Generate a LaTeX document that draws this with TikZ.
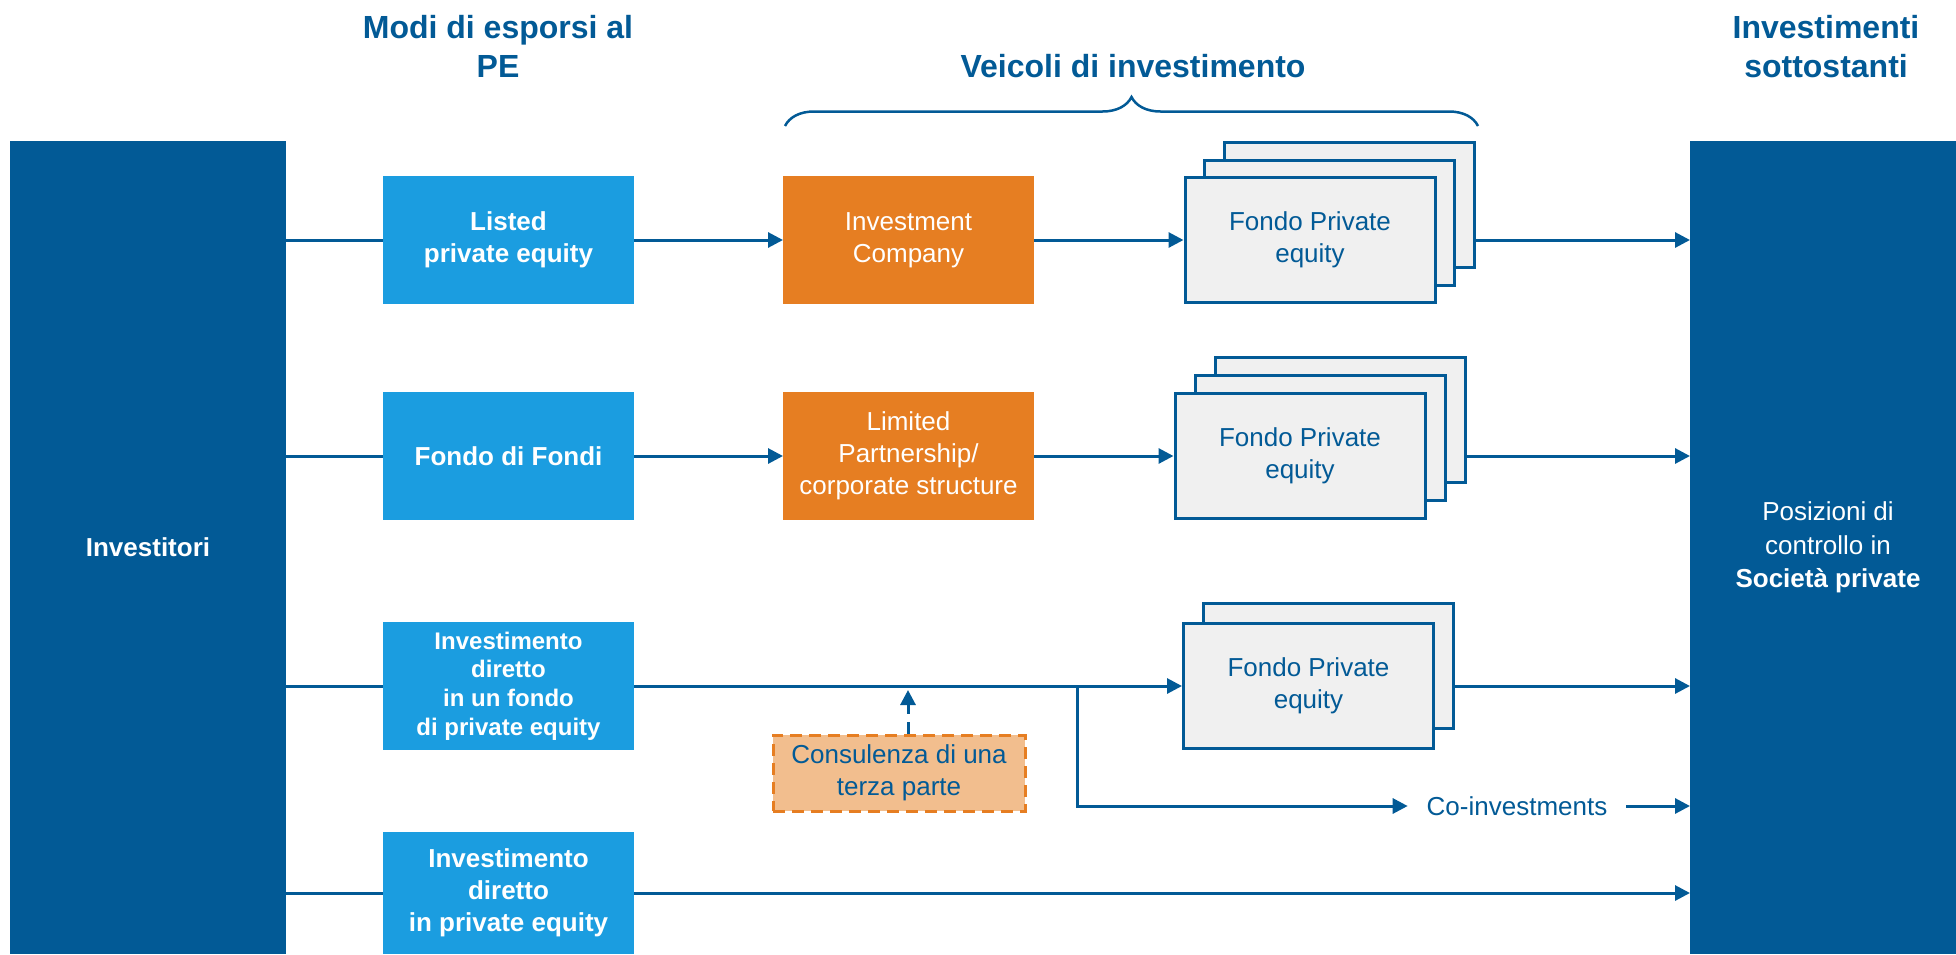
\documentclass[tikz,border=0pt]{standalone}
\usepackage{fontspec}
\setmainfont{Liberation Sans}
\usepackage{tikz}
\usetikzlibrary{arrows.meta,decorations.pathreplacing}
\definecolor{peblue}{RGB}{2,90,150}
\definecolor{pelight}{RGB}{27,157,224}
\definecolor{peorange}{RGB}{230,126,34}
\definecolor{pepeach}{RGB}{242,190,142}
\definecolor{pegray}{RGB}{240,240,240}

\begin{document}
\begin{tikzpicture}[x=1pt,y=-1pt,line width=3pt,
 every node/.style={font=\fontsize{26}{32}\selectfont,align=center,inner sep=0pt,outer sep=0pt},
 bar/.style={fill=peblue,text=white,minimum width=276pt,minimum height=813pt},
 mode/.style={fill=pelight,text=white,minimum width=251pt,minimum height=128pt,font=\bfseries\fontsize{26}{32}\selectfont},
 vehicle/.style={fill=peorange,text=white,minimum width=251pt,minimum height=128pt},
 fund/.style={draw=peblue,fill=pegray,text=peblue,minimum width=250pt,minimum height=125pt,outer sep=1.5pt},
 title/.style={text=peblue,font=\bfseries\fontsize{32}{38.7}\selectfont},
 flow/.style={draw=peblue,-{Triangle[length=15pt,width=15pt]}},
 link/.style={draw=peblue}]
\useasboundingbox (0,0) rectangle (1956,954);

\node[bar] (inv) at (148,547.5) {\bfseries Investitori};
\node[bar,font=\fontsize{26}{33.5}\selectfont] (soc) at (1828,547.5) {Posizioni di\\controllo in\\\textbf{Società private}};

\node[title] (t1) at (498,46.5) {Modi di esporsi al\\PE};
\node[title] (t2) at (1133,66) {Veicoli di investimento};
\node[title] (t3) at (1826,46.5) {Investimenti\\sottostanti};
\draw[peblue,line width=2.5pt,decorate,decoration={brace,amplitude=29pt}] (785,126) -- (1478,126);

\node[mode] (lpe) at (508.5,240) {Listed\\private equity};
\node[mode] (fdf) at (508.5,456) {Fondo di Fondi};
\node[mode,font=\bfseries\fontsize{24}{28.7}\selectfont] (idf) at (508.5,686) {Investimento\\diretto\\in un fondo\\di private equity};
\node[mode,minimum height=122pt] (idp) at (508.5,893) {Investimento\\diretto\\in private equity};

\node[vehicle] (ic) at (908.5,240) {Investment\\Company};
\node[vehicle] (lp) at (908.5,456) {Limited\\Partnership/\\corporate structure};

\foreach \d in {2,1}
  \node[fund] (fa\d) at ({1310+19.5*\d},{240-17.5*\d}) {};
\node[fund] (fa) at (1310,240) {Fondo Private\\equity};
\foreach \d in {2,1}
  \node[fund] (fb\d) at ({1300+20*\d},{456-18*\d}) {};
\node[fund] (fb) at (1300,456) {Fondo Private\\equity};
\node[fund] (fc1) at (1328.5,666) {};
\node[fund] (fc) at (1308.5,686) {Fondo Private\\equity};

\node[draw=peorange,fill=pepeach,text=peblue,dash pattern=on 12pt off 7pt,minimum width=252pt,minimum height=76pt,outer sep=1.5pt] (cons) at (899,773) {Consulenza di una\\terza parte};
\node[text=peblue,inner xsep=19pt] (coi) at (1517,806) {Co-investments};
\coordinate (split) at (1077,686);
\coordinate (adv) at (908,690);

\draw[link] (inv.east |- lpe) -- (lpe.west);
\draw[flow] (lpe) -- (ic);
\draw[flow] (ic) -- (fa);
\draw[flow] (fa2.east |- fa) -- (soc.west |- fa);

\draw[link] (inv.east |- fdf) -- (fdf.west);
\draw[flow] (fdf) -- (lp);
\draw[flow] (lp) -- (fb);
\draw[flow] (fb2.east |- fb) -- (soc.west |- fb);

\draw[link] (inv.east |- idf) -- (idf.west);
\draw[flow] (idf) -- (fc);
\draw[flow] (fc1.east |- fc) -- (soc.west |- fc);
\draw[flow] (split) |- (coi.west);
\draw[flow] (coi.east) -- (soc.west |- coi);
\draw[flow,dash pattern=on 12pt off 8pt] (adv |- cons.north) -- (adv);

\draw[link] (inv.east |- idp) -- (idp.west);
\draw[flow] (idp) -- (soc.west |- idp);
\end{tikzpicture}
\end{document}
